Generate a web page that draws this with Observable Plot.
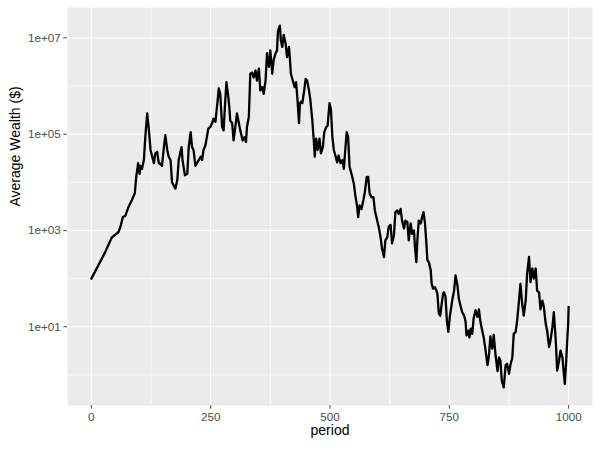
<!DOCTYPE html>
<html>
<head>
<meta charset="utf-8">
<script src="https://cdn.jsdelivr.net/npm/d3@7"></script>
<script src="https://cdn.jsdelivr.net/npm/@observablehq/plot@0.6"></script>
<style>
  html, body { margin: 0; padding: 0; background: #ffffff; }
  #chart { width: 600px; height: 450px; }
</style>
</head>
<body>
<div id="chart"></div>
<script>
// ---- data ----
const periods = [
  0, 29, 43, 57, 61, 66, 71, 78, 85, 91, 94, 98, 101, 103, 106, 110, 113, 117, 120, 124,
  131, 134, 138, 141, 148, 152, 155, 159, 162, 166, 169, 176, 180, 183, 189, 191, 196, 201,
  204, 208, 211, 214, 218, 222, 225, 229, 232, 235, 239, 245, 249, 253, 256, 260, 264, 267,
  270, 274, 277, 281, 283, 287, 289, 291, 295, 298, 302, 305, 309, 312, 317, 321, 324,
  326, 330, 333, 337, 340, 344, 347, 351, 354, 358, 361, 365, 368, 372, 375, 379, 382, 386,
  389, 391, 395, 397, 400, 403, 407, 410, 414, 416, 418, 422, 426, 429, 432, 435, 437, 439,
  442, 445, 449, 452, 456, 459, 463, 466, 468, 471, 474, 478, 481, 485, 488, 492, 495, 499,
  502, 505, 508, 512, 515, 518, 522, 526, 529, 532, 535, 538, 541, 545, 550, 553, 557, 559,
  562, 566, 570, 573, 577, 580, 583, 587, 591, 594, 599, 602, 606, 609, 613, 616, 620, 623,
  627, 630, 634, 637, 641, 644, 648, 651, 655, 658, 662, 665, 669, 672, 676, 678, 681, 683,
  686, 690, 693, 696, 699, 702, 704, 707, 711, 713, 716, 720, 723, 725, 728, 731, 734, 737,
  739, 742, 745, 748, 751, 753, 756, 760, 763, 767, 770, 774, 777, 781, 784, 786, 790, 792,
  795, 798, 801, 805, 809, 812, 815, 819, 822, 826, 830, 833, 836, 840, 843, 847, 851, 854,
  857, 860, 864, 868, 871, 875, 878, 882, 885, 889, 892, 896, 899, 903, 906, 910, 913, 917,
  920, 924, 927, 931, 934, 938, 941, 945, 948, 952, 955, 959, 962, 966, 969, 973, 976, 980,
  983, 987, 990, 992, 995, 997, 999, 1000
];
const wealth = [
  100, 355, 720, 930, 1.2e3, 1.9e3, 2.0e3, 3.1e3, 4.3e3, 5.9e3, 1.3e4, 2.5e4, 1.5e4, 2.2e4, 1.9e4, 2.9e4, 8.7e4, 2.7e5, 1.4e5, 4.7e4,
  2.5e4, 4.0e4, 4.3e4, 2.6e4, 2.2e4, 5.4e4, 9.5e4, 4.7e4, 3.4e4, 2.9e4, 1.0e4, 7.4e3, 1.1e4, 2.9e4, 5.4e4, 2.9e4, 1.4e4, 1.5e4,
  5.4e4, 1.1e5, 5.4e4, 4.7e4, 2.2e4, 2.6e4, 2.9e4, 3.4e4, 2.9e4, 4.7e4, 5.9e4, 1.3e5, 1.4e5, 1.7e5, 2.1e5, 1.8e5, 4.4e5, 8.9e5,
  6.9e5, 1.4e5, 1.2e5, 5.9e5, 1.2e6, 5.9e5, 3.7e5, 1.9e5, 1.7e5, 7.4e4, 1.5e5, 2.7e5, 1.7e5, 1.2e5, 7.4e4, 8.7e4, 6.9e4,
  1.4e5, 2.3e5, 1.8e6, 1.9e6, 1.5e6, 2.1e6, 1.3e6, 2.3e6, 8.1e5, 9.5e5, 6.9e5, 1.3e6, 4.8e6, 2.5e6, 5.5e6, 1.8e6, 3.5e6, 4.8e6,
  5.5e6, 1.4e7, 1.8e7, 8.9e6, 6.5e6, 1.15e7, 7.6e6, 4.0e6, 6.5e6, 3.7e6, 1.8e6, 1.3e6, 9.5e5, 1.2e6, 5.0e5, 1.7e5, 4.4e5, 4.7e5,
  4.4e5, 6.9e5, 1.4e6, 1.3e6, 8.1e5, 5.0e5, 1.9e5, 7.4e4, 3.4e4, 8.1e4, 4.7e4, 8.1e4, 4.0e4, 5.4e4, 1.1e5, 1.4e5, 1.5e5, 4.4e5,
  3.2e5, 8.7e4, 4.7e4, 3.4e4, 2.6e4, 3.6e4, 2.5e4, 2.9e4, 1.9e4, 4.7e4, 1.1e5, 8.7e4, 2.1e4, 1.5e4, 9.3e3, 5.4e3, 3.1e3, 1.9e3,
  3.3e3, 2.8e3, 4.3e3, 6.3e3, 1.3e4, 1.3e4, 5.9e3, 4.9e3, 4.9e3, 2.6e3, 1.6e3, 1.2e3, 720, 420, 280, 620, 720, 1.2e3,
  1.3e3, 540, 790, 2.4e3, 2.6e3, 2.2e3, 2.8e3, 1.6e3, 1.1e3, 1.6e3, 1.5e3, 620, 1.4e3, 850, 1.0e3, 450, 220, 620,
  1.6e3, 1.4e3, 1.9e3, 2.4e3, 1.4e3, 540, 240, 220, 150, 78, 62, 66, 56, 49, 19, 17, 30, 49,
  52, 42, 13, 7.8, 16, 22, 35, 56, 117, 72, 38, 26, 20, 17, 13, 6.6, 8.3, 6.0,
  9.1, 7.1, 15, 22, 16, 23, 13, 8.3, 6.0, 3.2, 1.6, 2.5, 6.3, 3.5, 6.8, 2.5, 1.2, 2.3,
  2.0, 0.76, 0.55, 1.6, 1.7, 1.05, 1.6, 2.3, 7.1, 7.8, 13, 35, 78, 28, 17, 35, 126, 282,
  85, 162, 100, 162, 56, 52, 23, 35, 26, 11.5, 8.3, 3.8, 5.2, 9.8, 20, 5.2, 1.23, 2.0,
  3.2, 2.3, 1.05, 0.65, 2.0, 5.2, 11.5, 26
];
const xTicks = [0, 250, 500, 750, 1000];
const xTickLabels = ["0", "250", "500", "750", "1000"];
const xMinor = [125, 375, 625, 875];
const yTicks = [1e1, 1e3, 1e5, 1e7];
const yTickLabels = ["1e+01", "1e+03", "1e+05", "1e+07"];
const yMinor = [1e0, 1e2, 1e4, 1e6];
const xTitle = "period";
const yTitle = "Average Wealth ($)";

const data = periods.map((p, i) => ({period: p, wealth: wealth[i]}));

// ggplot-style 5% expansion (log space for y)
const [x0, x1] = d3.extent(periods);
const xPad = (x1 - x0) * 0.05;
const [l0, l1] = d3.extent(wealth).map(Math.log10);
const lPad = (l1 - l0) * 0.05;

const font = "'Liberation Sans', Arial, sans-serif";
const xLabel = new Map(xTicks.map((t, i) => [t, xTickLabels[i]]));
const yLabel = new Map(yTicks.map((t, i) => [t, yTickLabels[i]]));

const chart = Plot.plot({
  width: 600,
  height: 450,
  marginLeft: 67,
  marginRight: 8,
  marginTop: 7,
  marginBottom: 45,
  style: {fontFamily: font, background: "#ffffff", overflow: "visible"},
  x: {domain: [x0 - xPad, x1 + xPad]},
  y: {type: "log", domain: [Math.pow(10, l0 - lPad), Math.pow(10, l1 + lPad)]},
  marks: [
    Plot.frame({fill: "#EBEBEB", stroke: null}),
    Plot.ruleX(xMinor, {stroke: "#ffffff", strokeWidth: 0.7}),
    Plot.ruleY(yMinor, {stroke: "#ffffff", strokeWidth: 0.7}),
    Plot.ruleX(xTicks, {stroke: "#ffffff", strokeWidth: 1.2}),
    Plot.ruleY(yTicks, {stroke: "#ffffff", strokeWidth: 1.2}),
    Plot.line(data, {x: "period", y: "wealth", stroke: "#000000", strokeWidth: 2.3, strokeLinejoin: "round"}),
    Plot.axisX({ticks: xTicks, tickFormat: d => xLabel.get(d), tickSize: 3.7, tickPadding: 3,
      fontSize: 11.7, color: "#4D4D4D", label: null}),
    Plot.axisY({ticks: yTicks, tickFormat: d => yLabel.get(d), tickSize: 3.7, tickPadding: 3,
      fontSize: 11.7, color: "#4D4D4D", label: null}),
    Plot.text([xTitle], {frameAnchor: "bottom", dy: 29, fontSize: 14, fill: "#000000"}),
    Plot.text([yTitle], {frameAnchor: "left", dx: -52, rotate: -90, fontSize: 14, fill: "#000000"})
  ]
});
document.getElementById("chart").appendChild(chart);
</script>
</body>
</html>
